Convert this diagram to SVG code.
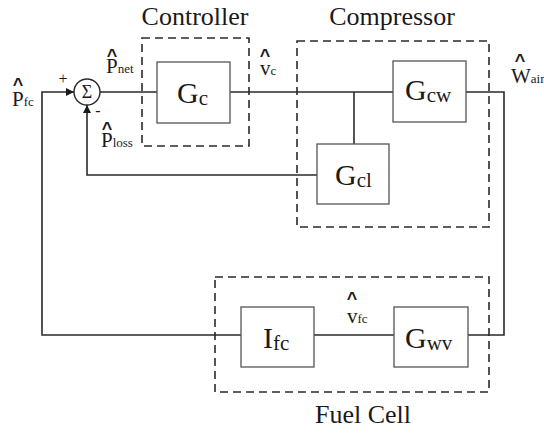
<svg xmlns="http://www.w3.org/2000/svg" width="544" height="433" viewBox="0 0 544 433" font-family="'Liberation Serif', 'DejaVu Serif', serif">
<defs>
<style>
.ln{fill:none;stroke:#2a2a2a;stroke-width:1.6}
.bx{fill:#fff;stroke:#555;stroke-width:1.3}
.dash{fill:none;stroke:#2a2a2a;stroke-width:1.6;stroke-dasharray:8,5}
text{font-family:'Liberation Serif','DejaVu Serif',serif;fill:#1a1a1a}
.title{font-size:26px}
.big{font-size:30px}
.bsub{font-size:21px}
.lab{font-size:21px}
.sub{font-size:13px}
.hat{font-family:'Liberation Sans','DejaVu Sans',sans-serif;font-weight:bold;font-size:18px}
</style>
<marker id="arr" viewBox="0 0 10 10" refX="10" refY="5" markerWidth="9" markerHeight="8" markerUnits="userSpaceOnUse" orient="auto">
<path d="M0,0 L10,5 L0,10 z" fill="#1a1a1a"/>
</marker>
</defs>
<rect width="544" height="433" fill="#fff"/>

<g id="connectors">
<path class="ln" d="M241,335 H42 V92 H74" marker-end="url(#arr)"/>
<path class="ln" d="M100,92 H157"/>
<path class="ln" d="M230,92 H393"/>
<path class="ln" d="M354,92 V144"/>
<path class="ln" d="M317,175 H87 V105" marker-end="url(#arr)"/>
<path class="ln" d="M466,92 H504 V335 H468"/>
<path class="ln" d="M314,335 H394"/>
</g>

<g id="controller-group">
<rect class="dash" x="142" y="38" width="107" height="108"/>
<text class="title" x="195" y="25" text-anchor="middle">Controller</text>
</g>
<g id="compressor-group">
<rect class="dash" x="297" y="41" width="192" height="186"/>
<text class="title" x="392" y="25" text-anchor="middle">Compressor</text>
</g>
<g id="fuelcell-group">
<rect class="dash" x="215" y="277" width="274" height="115"/>
<text class="title" x="363" y="423" text-anchor="middle">Fuel Cell</text>
</g>

<g id="sum">
<circle cx="87" cy="92" r="13" fill="#fff" stroke="#2a2a2a" stroke-width="1.4"/>
<text x="87" y="98" font-size="18" text-anchor="middle">Σ</text>
<text x="63" y="84" font-size="16" text-anchor="middle">+</text>
<text x="98" y="116" font-size="16" text-anchor="middle">-</text>
</g>

<g id="Gc">
<rect class="bx" x="157" y="62" width="73" height="61"/>
<text x="177" y="103"><tspan class="big">G</tspan><tspan class="bsub" dy="2">c</tspan></text>
</g>
<g id="Gcw">
<rect class="bx" x="393" y="61" width="73" height="61"/>
<text x="405" y="100"><tspan class="big">G</tspan><tspan class="bsub" dy="2">cw</tspan></text>
</g>
<g id="Gcl">
<rect class="bx" x="317" y="144" width="72" height="60"/>
<text x="335" y="185"><tspan class="big">G</tspan><tspan class="bsub" dy="2">cl</tspan></text>
</g>
<g id="Ifc">
<rect class="bx" x="241" y="307" width="73" height="60"/>
<text x="263" y="348"><tspan class="big">I</tspan><tspan class="bsub" dy="2">fc</tspan></text>
</g>
<g id="Gwv">
<rect class="bx" x="394" y="307" width="74" height="60"/>
<text x="405" y="348"><tspan class="big">G</tspan><tspan class="bsub" dy="2">wv</tspan></text>
</g>

<g id="labels">
<text><tspan class="hat" x="18" y="91" text-anchor="middle">^</tspan><tspan class="lab" x="12" y="106">P</tspan><tspan class="sub">fc</tspan></text>
<text><tspan class="hat" x="112" y="62" text-anchor="middle">^</tspan><tspan class="lab" x="106" y="73">P</tspan><tspan class="sub">net</tspan></text>
<text><tspan class="hat" x="107" y="135" text-anchor="middle">^</tspan><tspan class="lab" x="101" y="147">P</tspan><tspan class="sub">loss</tspan></text>
<text><tspan class="hat" x="265" y="62" text-anchor="middle">^</tspan><tspan class="lab" x="260" y="75">v</tspan><tspan class="sub">c</tspan></text>
<text><tspan class="hat" x="520" y="67" text-anchor="middle">^</tspan><tspan class="lab" x="511" y="83">W</tspan><tspan class="sub">air</tspan></text>
<text><tspan class="hat" x="352" y="305" text-anchor="middle">^</tspan><tspan class="lab" x="347" y="323">v</tspan><tspan class="sub">fc</tspan></text>
</g>
</svg>
